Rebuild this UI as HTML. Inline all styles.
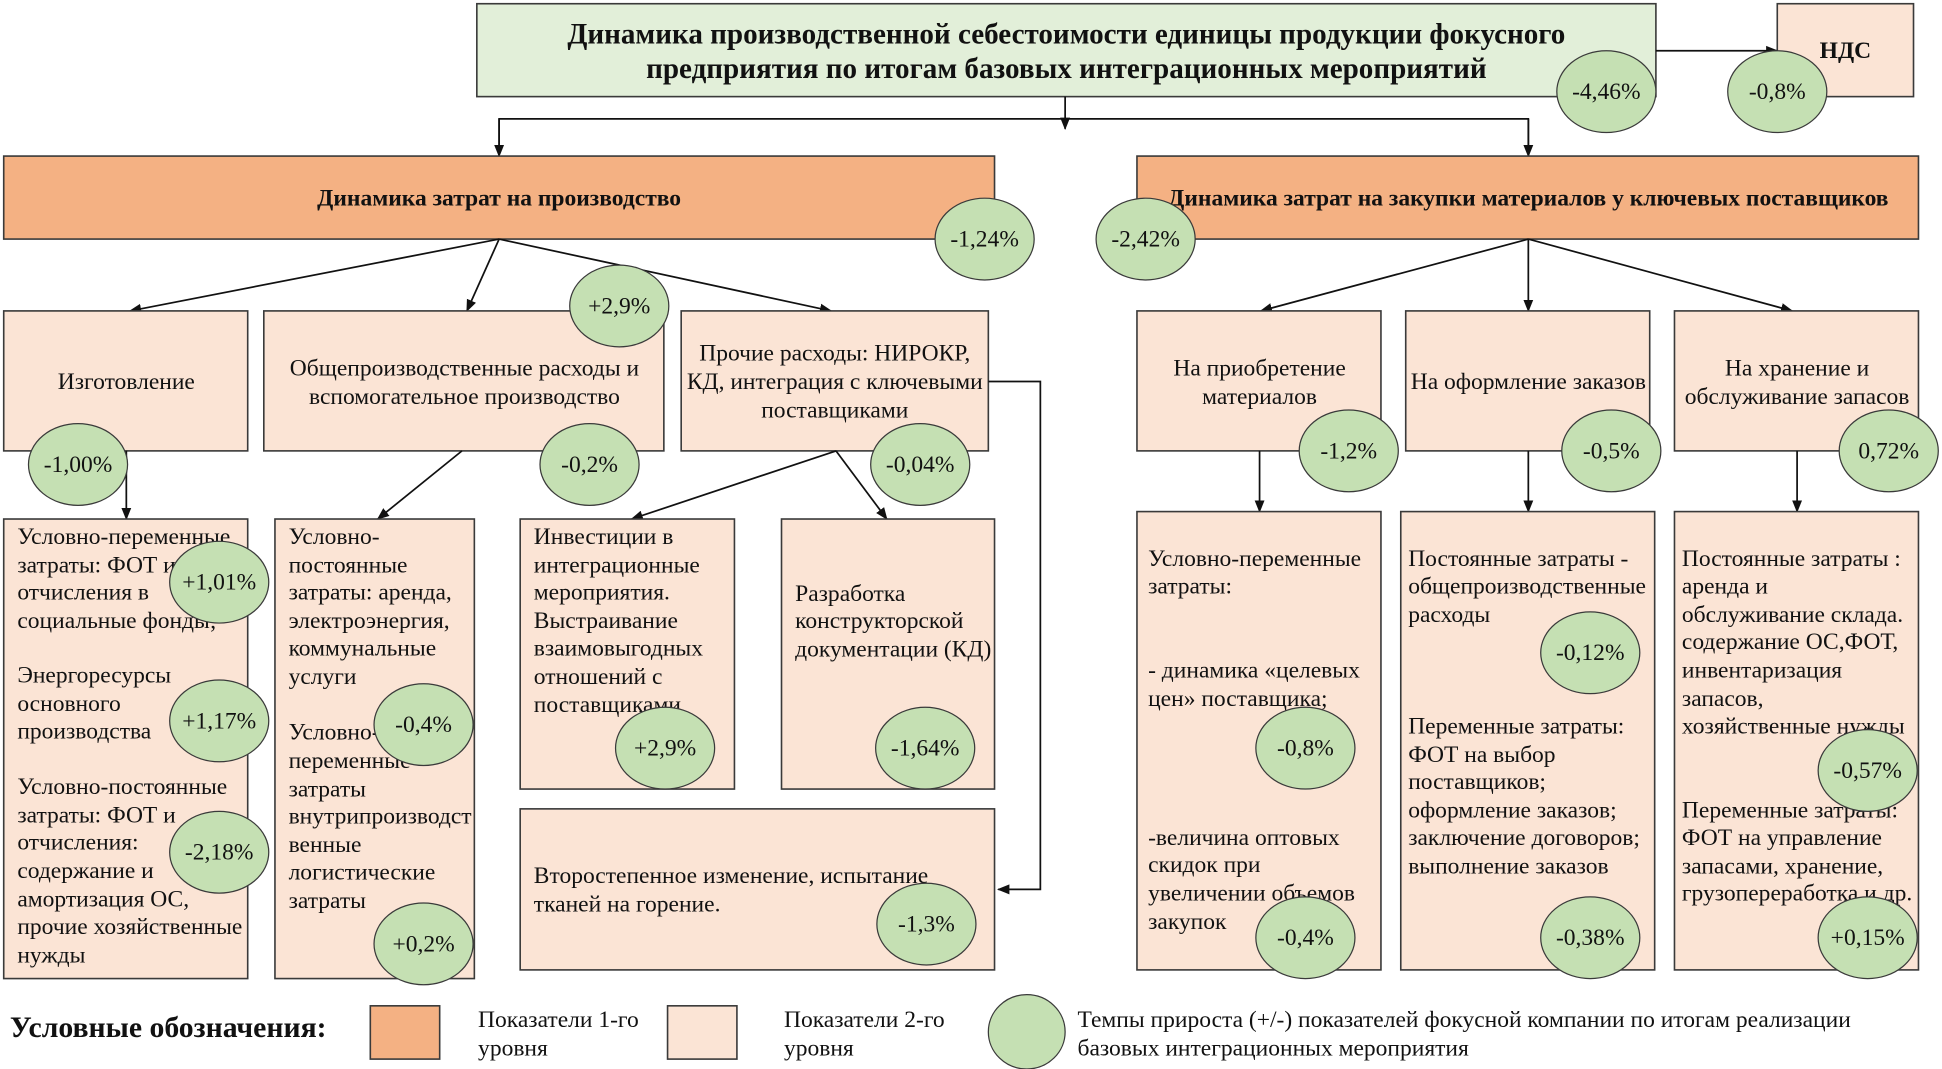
<!DOCTYPE html>
<html><head><meta charset="utf-8"><style>
html,body{margin:0;padding:0;background:#fff;}
svg{display:block;}
text{font-family:"Liberation Serif",serif;font-size:19px;fill:#111;}
.c{text-anchor:middle;}
.b{font-weight:bold;}
.bx{stroke:#3a3a3a;stroke-width:1.3;}
.l1{fill:#f4b183;}
.l2{fill:#fbe4d5;}
.el{fill:#c5e0b3;stroke:#3a3a3a;stroke-width:1;}
.ln{stroke:#111;stroke-width:1.4;fill:none;}
</style></head><body>
<svg width="1942" height="1069" viewBox="0 0 1568 863" preserveAspectRatio="none" xmlns="http://www.w3.org/2000/svg">
<defs><marker id="a" markerWidth="10" markerHeight="10" refX="9" refY="5" orient="auto" markerUnits="userSpaceOnUse"><path d="M0,1 L10,5 L0,9 Z" fill="#111"/></marker></defs>

<!-- top -->
<rect x="385" y="3" width="952" height="75" fill="#e2efd9" class="bx"/>
<text class="c b" x="861" y="35" style="font-size:23.5px">Динамика производственной себестоимости единицы продукции фокусного</text>
<text class="c b" x="861" y="63" style="font-size:23.5px">предприятия по итогам базовых интеграционных мероприятий</text>
<rect x="1435" y="3" width="110" height="75" class="bx l2"/>
<text class="c b" x="1490" y="47" style="font-size:19px">НДС</text>
<line x1="1337" y1="41" x2="1435" y2="41" class="ln" marker-end="url(#a)"/>
<ellipse cx="1297" cy="74" rx="40" ry="33" class="el"/><text class="c" x="1297" y="80">-4,46%</text>
<ellipse cx="1435" cy="74" rx="40" ry="33" class="el"/><text class="c" x="1435" y="80">-0,8%</text>

<line x1="860" y1="78" x2="860" y2="104" class="ln" marker-end="url(#a)"/>
<polyline points="403,126 403,96 1234,96 1234,126" class="ln"/>
<line x1="403" y1="96" x2="403" y2="126" class="ln" marker-end="url(#a)"/>
<line x1="1234" y1="96" x2="1234" y2="126" class="ln" marker-end="url(#a)"/>

<!-- level 1 -->
<rect x="3" y="126" width="800" height="67" class="bx l1"/>
<text class="c b" x="403" y="166">Динамика затрат на производство</text>
<rect x="918" y="126" width="631" height="67" class="bx l1"/>
<text class="c b" x="1234" y="166">Динамика затрат на закупки материалов у ключевых поставщиков</text>

<!-- arrows l1->l2 -->
<line x1="403" y1="193" x2="105" y2="251" class="ln" marker-end="url(#a)"/>
<line x1="403" y1="193" x2="377" y2="251" class="ln" marker-end="url(#a)"/>
<line x1="403" y1="193" x2="671" y2="251" class="ln" marker-end="url(#a)"/>
<line x1="1234" y1="193" x2="1018" y2="251" class="ln" marker-end="url(#a)"/>
<line x1="1234" y1="193" x2="1234" y2="251" class="ln" marker-end="url(#a)"/>
<line x1="1234" y1="193" x2="1447" y2="251" class="ln" marker-end="url(#a)"/>

<ellipse cx="795" cy="193" rx="40" ry="33" class="el"/><text class="c" x="795" y="199">-1,24%</text>
<ellipse cx="925" cy="193" rx="40" ry="33" class="el"/><text class="c" x="925" y="199">-2,42%</text>

<!-- level 2 -->
<rect x="3" y="251" width="197" height="113" class="bx l2"/>
<text class="c" x="102" y="314">Изготовление</text>
<rect x="213" y="251" width="323" height="113" class="bx l2"/>
<text class="c" x="375" y="303">Общепроизводственные расходы и</text>
<text class="c" x="375" y="326">вспомогательное производство</text>
<rect x="550" y="251" width="248" height="113" class="bx l2"/>
<text class="c" x="674" y="291">Прочие расходы: НИРОКР,</text>
<text class="c" x="674" y="314">КД, интеграция с ключевыми</text>
<text class="c" x="674" y="337">поставщиками</text>
<rect x="918" y="251" width="197" height="113" class="bx l2"/>
<text class="c" x="1017" y="303">На приобретение</text>
<text class="c" x="1017" y="326">материалов</text>
<rect x="1135" y="251" width="197" height="113" class="bx l2"/>
<text class="c" x="1234" y="314">На оформление заказов</text>
<rect x="1352" y="251" width="197" height="113" class="bx l2"/>
<text class="c" x="1451" y="303">На хранение и</text>
<text class="c" x="1451" y="326">обслуживание запасов</text>

<!-- arrows l2->l3 -->
<line x1="102" y1="364" x2="102" y2="419" class="ln" marker-end="url(#a)"/>
<line x1="373" y1="364" x2="305" y2="419" class="ln" marker-end="url(#a)"/>
<line x1="675" y1="364" x2="510" y2="419" class="ln" marker-end="url(#a)"/>
<line x1="675" y1="364" x2="716" y2="419" class="ln" marker-end="url(#a)"/>
<line x1="1017" y1="364" x2="1017" y2="413" class="ln" marker-end="url(#a)"/>
<line x1="1234" y1="364" x2="1234" y2="413" class="ln" marker-end="url(#a)"/>
<line x1="1451" y1="364" x2="1451" y2="413" class="ln" marker-end="url(#a)"/>
<polyline points="798,308 840,308 840,718 806,718" class="ln" marker-end="url(#a)"/>

<ellipse cx="500" cy="247" rx="40" ry="33" class="el"/><text class="c" x="500" y="253">+2,9%</text>
<ellipse cx="63" cy="375" rx="40" ry="33" class="el"/><text class="c" x="63" y="381">-1,00%</text>
<ellipse cx="476" cy="375" rx="40" ry="33" class="el"/><text class="c" x="476" y="381">-0,2%</text>
<ellipse cx="743" cy="375" rx="40" ry="33" class="el"/><text class="c" x="743" y="381">-0,04%</text>
<ellipse cx="1089" cy="364" rx="40" ry="33" class="el"/><text class="c" x="1089" y="370">-1,2%</text>
<ellipse cx="1301" cy="364" rx="40" ry="33" class="el"/><text class="c" x="1301" y="370">-0,5%</text>
<ellipse cx="1525" cy="364" rx="40" ry="33" class="el"/><text class="c" x="1525" y="370">0,72%</text>

<!-- level 3 left -->
<rect x="3" y="419" width="197" height="371" class="bx l2"/>
<g>
<text x="14" y="439">Условно-переменные</text>
<text x="14" y="462">затраты: ФОТ и</text>
<text x="14" y="484">отчисления в</text>
<text x="14" y="507">социальные фонды;</text>
<text x="14" y="551">Энергоресурсы</text>
<text x="14" y="574">основного</text>
<text x="14" y="596">производства</text>
<text x="14" y="641">Условно-постоянные</text>
<text x="14" y="664">затраты: ФОТ и</text>
<text x="14" y="686">отчисления:</text>
<text x="14" y="709">содержание и</text>
<text x="14" y="732">амортизация ОС,</text>
<text x="14" y="754">прочие хозяйственные</text>
<text x="14" y="777">нужды</text>
</g>
<ellipse cx="177" cy="470" rx="40" ry="33" class="el"/><text class="c" x="177" y="476">+1,01%</text>
<ellipse cx="177" cy="582" rx="40" ry="33" class="el"/><text class="c" x="177" y="588">+1,17%</text>
<ellipse cx="177" cy="688" rx="40" ry="33" class="el"/><text class="c" x="177" y="694">-2,18%</text>

<rect x="222" y="419" width="161" height="371" class="bx l2"/>
<g>
<text x="233" y="439">Условно-</text>
<text x="233" y="462">постоянные</text>
<text x="233" y="484">затраты: аренда,</text>
<text x="233" y="507">электроэнергия,</text>
<text x="233" y="529">коммунальные</text>
<text x="233" y="552">услуги</text>
<text x="233" y="597">Условно-</text>
<text x="233" y="620">переменные</text>
<text x="233" y="643">затраты</text>
<text x="233" y="665">внутрипроизводст</text>
<text x="233" y="688">венные</text>
<text x="233" y="710">логистические</text>
<text x="233" y="733">затраты</text>
</g>
<ellipse cx="342" cy="585" rx="40" ry="33" class="el"/><text class="c" x="342" y="591">-0,4%</text>
<ellipse cx="342" cy="762" rx="40" ry="33" class="el"/><text class="c" x="342" y="768">+0,2%</text>

<rect x="420" y="419" width="173" height="218" class="bx l2"/>
<g>
<text x="431" y="439">Инвестиции в</text>
<text x="431" y="462">интеграционные</text>
<text x="431" y="484">мероприятия.</text>
<text x="431" y="507">Выстраивание</text>
<text x="431" y="529">взаимовыгодных</text>
<text x="431" y="552">отношений с</text>
<text x="431" y="575">поставщиками</text>
</g>
<ellipse cx="537" cy="604" rx="40" ry="33" class="el"/><text class="c" x="537" y="610">+2,9%</text>

<rect x="631" y="419" width="172" height="218" class="bx l2"/>
<text x="642" y="485">Разработка</text>
<text x="642" y="507">конструкторской</text>
<text x="642" y="530">документации (КД)</text>
<ellipse cx="747" cy="604" rx="40" ry="33" class="el"/><text class="c" x="747" y="610">-1,64%</text>

<rect x="420" y="653" width="383" height="130" class="bx l2"/>
<text x="431" y="713">Второстепенное изменение, испытание</text>
<text x="431" y="736">тканей на горение.</text>
<ellipse cx="748" cy="746" rx="40" ry="33" class="el"/><text class="c" x="748" y="752">-1,3%</text>

<!-- level 3 right -->
<rect x="918" y="413" width="197" height="370" class="bx l2"/>
<g>
<text x="927" y="457">Условно-переменные</text>
<text x="927" y="479">затраты:</text>
<text x="927" y="547">- динамика «целевых</text>
<text x="927" y="570">цен» поставщика;</text>
<text x="927" y="682">-величина оптовых</text>
<text x="927" y="704">скидок при</text>
<text x="927" y="727">увеличении объемов</text>
<text x="927" y="750">закупок</text>
</g>
<ellipse cx="1054" cy="604" rx="40" ry="33" class="el"/><text class="c" x="1054" y="610">-0,8%</text>
<ellipse cx="1054" cy="757" rx="40" ry="33" class="el"/><text class="c" x="1054" y="763">-0,4%</text>

<rect x="1131" y="413" width="205" height="370" class="bx l2"/>
<g>
<text x="1137" y="457">Постоянные затраты -</text>
<text x="1137" y="479">общепроизводственные</text>
<text x="1137" y="502">расходы</text>
<text x="1137" y="592">Переменные затраты:</text>
<text x="1137" y="615">ФОТ на выбор</text>
<text x="1137" y="637">поставщиков;</text>
<text x="1137" y="660">оформление заказов;</text>
<text x="1137" y="682">заключение договоров;</text>
<text x="1137" y="705">выполнение заказов</text>
</g>
<ellipse cx="1284" cy="527" rx="40" ry="33" class="el"/><text class="c" x="1284" y="533">-0,12%</text>
<ellipse cx="1284" cy="757" rx="40" ry="33" class="el"/><text class="c" x="1284" y="763">-0,38%</text>

<rect x="1352" y="413" width="197" height="370" class="bx l2"/>
<g>
<text x="1358" y="457">Постоянные затраты :</text>
<text x="1358" y="479">аренда  и</text>
<text x="1358" y="502">обслуживание склада.</text>
<text x="1358" y="524">содержание ОС,ФОТ,</text>
<text x="1358" y="547">инвентаризация</text>
<text x="1358" y="570">запасов,</text>
<text x="1358" y="592">хозяйственные нужды</text>
<text x="1358" y="660">Переменные затраты:</text>
<text x="1358" y="682">ФОТ на управление</text>
<text x="1358" y="705">запасами, хранение,</text>
<text x="1358" y="727">грузопереработка и др.</text>
</g>
<ellipse cx="1508" cy="622" rx="40" ry="33" class="el"/><text class="c" x="1508" y="628">-0,57%</text>
<ellipse cx="1508" cy="757" rx="40" ry="33" class="el"/><text class="c" x="1508" y="763">+0,15%</text>

<!-- legend -->
<text class="b" x="8" y="837" style="font-size:24px">Условные обозначения:</text>
<rect x="299" y="812" width="56" height="43" class="bx l1"/>
<text x="386" y="829">Показатели 1-го</text>
<text x="386" y="852">уровня</text>
<rect x="539" y="812" width="56" height="43" class="bx l2"/>
<text x="633" y="829">Показатели 2-го</text>
<text x="633" y="852">уровня</text>
<ellipse cx="829" cy="833" rx="31" ry="30" class="el"/>
<text x="870" y="829">Темпы прироста (+/-) показателей фокусной компании по итогам реализации</text>
<text x="870" y="852">базовых интеграционных мероприятия</text>
</svg>
</body></html>
